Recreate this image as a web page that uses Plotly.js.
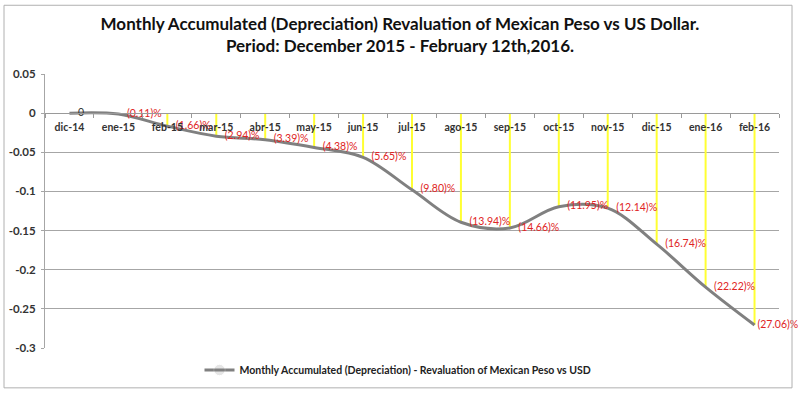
<!DOCTYPE html>
<html>
<head>
<meta charset="utf-8">
<script src="https://cdn.plot.ly/plotly-3.0.1.min.js"></script>
<style>
html,body{margin:0;padding:0;background:#fff;}
#chart{width:800px;height:395px;}
</style>
</head>
<body>
<div id="chart"></div>
<script>
var categories = ["dic-14","ene-15","feb-15","mar-15","abr-15","may-15","jun-15","jul-15","ago-15","sep-15","oct-15","nov-15","dic-15","ene-16","feb-16"];
var values = [0, -0.0011, -0.0166, -0.0294, -0.0339, -0.0438, -0.0565, -0.0980, -0.1394, -0.1466, -0.1195, -0.1214, -0.1674, -0.2222, -0.2706];
var pointLabels = ["0","(0.11)%","(1.66)%","(2.94)%","(3.39)%","(4.38)%","(5.65)%","(9.80)%","(13.94)%","(14.66)%","(11.95)%","(12.14)%","(16.74)%","(22.22)%","(27.06)%"];
var yTickVals = [0.05, 0, -0.05, -0.1, -0.15, -0.2, -0.25, -0.3];
var yTickText = ["0.05","0","-0.05","-0.1","-0.15","-0.2","-0.25","-0.3"];
var seriesName = "Monthly Accumulated (Depreciation) - Revaluation of Mexican Peso vs USD";
var titleLines = ["Monthly Accumulated (Depreciation) Revaluation of Mexican Peso vs US Dollar.", "Period: December 2015 - February 12th,2016."];

var FONT = "Lato, 'Open Sans', sans-serif";
var labelColors = pointLabels.map(function(t){ return t === "0" ? "#333333" : "#e02424"; });
// invisible marker sizes control label offset; last label sits closer (chart edge)
var markerSizes = values.map(function(v, i){ return i === values.length - 1 ? 3 : 12; });

var dropLines = {
  x: categories,
  y: values,
  type: "scatter",
  mode: "markers",
  marker: {size: 1, opacity: 0},
  showlegend: false,
  hoverinfo: "skip",
  error_y: {
    type: "data",
    symmetric: false,
    array: values.map(function(v){ return -v; }),
    arrayminus: values.map(function(){ return 0; }),
    color: "#ffff33",
    thickness: 2,
    width: 0
  }
};

var line = {
  x: categories,
  y: values,
  type: "scatter",
  mode: "lines+markers+text",
  name: seriesName,
  line: {color: "#808080", width: 3, shape: "spline", smoothing: 1},
  marker: {size: markerSizes, opacity: 0, color: "#808080"},
  text: pointLabels,
  textposition: "middle right",
  textfont: {family: FONT, size: 10.5, color: labelColors},
  cliponaxis: false
};

var layout = {
  width: 800,
  height: 395,
  paper_bgcolor: "#ffffff",
  plot_bgcolor: "#ffffff",
  margin: {l: 45, r: 21, t: 74, b: 46},
  title: {
    text: titleLines.join("<br>"),
    font: {family: FONT, size: 17, color: "#111111", weight: "bold"},
    x: 0.5, xanchor: "center",
    y: 1 - 30/395, yanchor: "middle", yref: "container"
  },
  xaxis: {
    type: "category",
    range: [-0.5, 14.5],
    anchor: "free",
    position: 0.3/0.35,
    showline: true,
    linecolor: "#9a9a9a",
    linewidth: 1,
    ticks: "outside",
    tickson: "boundaries",
    ticklen: 4,
    tickcolor: "#9a9a9a",
    ticklabelstandoff: 4,
    showgrid: false,
    tickfont: {family: FONT, size: 10.5, color: "#333333", weight: "bold"},
    fixedrange: true
  },
  yaxis: {
    range: [-0.3, 0.05],
    tickvals: yTickVals,
    ticktext: yTickText,
    showgrid: true,
    gridcolor: "#a6a6a6",
    gridwidth: 1,
    zeroline: true,
    zerolinecolor: "#a6a6a6",
    zerolinewidth: 1,
    showline: true,
    linecolor: "#a6a6a6",
    ticks: "outside",
    ticklen: 3,
    tickcolor: "#a6a6a6",
    ticklabelstandoff: 3,
    tickfont: {family: FONT, size: 11.5, color: "#333333", weight: "bold"},
    fixedrange: true
  },
  showlegend: true,
  legend: {
    orientation: "h",
    x: (398-45)/734, xanchor: "center",
    y: (349-370)/275, yanchor: "middle",
    font: {family: FONT, size: 10.5, color: "#222222", weight: "bold"},
    bgcolor: "rgba(0,0,0,0)"
  },
  shapes: [{
    type: "rect", xref: "paper", yref: "paper",
    x0: (4-45)/734, x1: (792-45)/734,
    y0: (349-389)/275, y1: (349-5)/275,
    line: {color: "#b0b0b0", width: 1},
    fillcolor: "rgba(0,0,0,0)"
  }]
};

Plotly.newPlot("chart", [dropLines, line], layout, {displayModeBar: false, staticPlot: true});
</script>
</body>
</html>
